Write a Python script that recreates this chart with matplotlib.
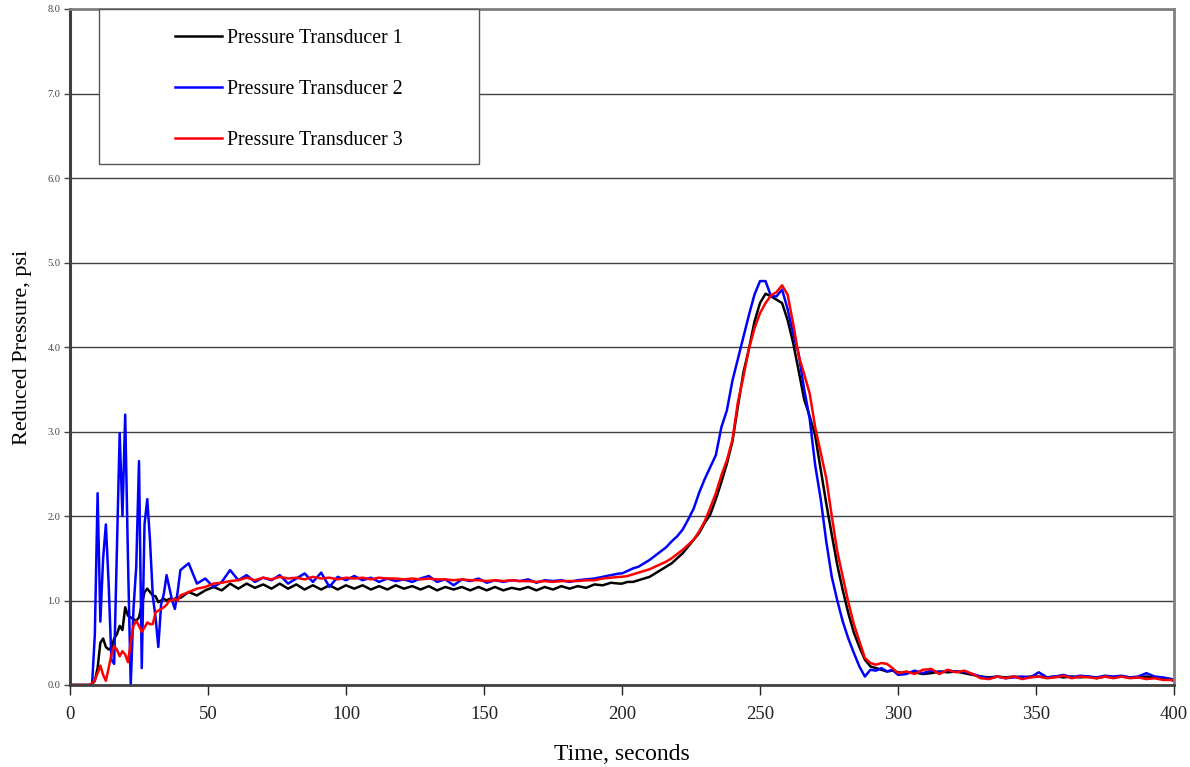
import matplotlib
matplotlib.use('Agg')
import matplotlib.pyplot as plt
from matplotlib.patches import Rectangle
import numpy as np

# time axis (s): 1 s steps at start, 3 s on plateau, 2 s through the peak, 3 s in tail
time_s = (list(range(0, 41)) + list(range(43, 200, 3))
          + list(range(200, 301, 2)) + list(range(303, 400, 3)) + [400])

pt1 = [
    # 0-40
    0.0, 0.0, 0.0, 0.0, 0.0, 0.0, 0.0, 0.0, 0.01, 0.05, 0.2, 0.5, 0.55, 0.45, 0.42, 0.44,
    0.55, 0.6, 0.7, 0.65, 0.92, 0.82, 0.8, 0.78, 0.76, 0.8, 0.95, 1.1, 1.14, 1.1, 1.06,
    1.05, 0.98, 1.0, 1.02, 1.0, 1.02, 1.0, 1.02, 1.04, 1.03,
    # 43-199
    1.10, 1.06, 1.12, 1.16, 1.12, 1.20, 1.14, 1.20, 1.15, 1.19, 1.14, 1.20, 1.14, 1.19,
    1.13, 1.18, 1.13, 1.18, 1.13, 1.18, 1.14, 1.18, 1.13, 1.17, 1.13, 1.18, 1.14, 1.17,
    1.13, 1.17, 1.12, 1.16, 1.13, 1.16, 1.12, 1.16, 1.12, 1.16, 1.12, 1.15, 1.13, 1.16,
    1.12, 1.16, 1.13, 1.17, 1.14, 1.17, 1.15, 1.19, 1.18, 1.21, 1.20,
    # 200-300
    1.20, 1.22, 1.22, 1.24, 1.26, 1.28, 1.32, 1.36, 1.40, 1.44, 1.50, 1.56, 1.64, 1.72,
    1.80, 1.92, 2.02, 2.20, 2.40, 2.62, 2.88, 3.30, 3.70, 3.98, 4.30, 4.52, 4.63, 4.60,
    4.56, 4.52, 4.32, 4.05, 3.72, 3.38, 3.18, 2.95, 2.55, 2.15, 1.78, 1.42, 1.12, 0.85,
    0.62, 0.45, 0.30, 0.22, 0.20, 0.18, 0.16, 0.17, 0.15,
    # 303-400
    0.14, 0.15, 0.13, 0.14, 0.16, 0.15, 0.16, 0.14, 0.12, 0.10, 0.09, 0.10, 0.09, 0.10,
    0.09, 0.10, 0.10, 0.09, 0.10, 0.09, 0.10, 0.09, 0.10, 0.08, 0.10, 0.09, 0.10, 0.09,
    0.09, 0.10, 0.09, 0.08, 0.07, 0.06,
]

pt2 = [
    # 0-40
    0.0, 0.0, 0.0, 0.0, 0.0, 0.0, 0.0, 0.0, 0.0, 0.6, 2.27, 0.75, 1.5, 1.9, 1.2, 0.3,
    0.25, 1.6, 2.98, 2.0, 3.2, 1.5, 0.0, 0.9, 1.4, 2.65, 0.2, 1.9, 2.2, 1.7, 1.05,
    0.8, 0.45, 0.95, 1.08, 1.3, 1.15, 1.0, 0.9, 1.1, 1.36,
    # 43-199
    1.44, 1.20, 1.26, 1.16, 1.22, 1.36, 1.24, 1.30, 1.22, 1.27, 1.24, 1.30, 1.20, 1.26,
    1.32, 1.22, 1.33, 1.16, 1.28, 1.24, 1.29, 1.24, 1.27, 1.22, 1.26, 1.23, 1.25, 1.22,
    1.26, 1.29, 1.22, 1.25, 1.18, 1.25, 1.23, 1.26, 1.21, 1.24, 1.22, 1.24, 1.23, 1.25,
    1.21, 1.24, 1.23, 1.24, 1.22, 1.24, 1.25, 1.26, 1.28, 1.30, 1.32,
    # 200-300
    1.32, 1.35, 1.38, 1.40, 1.44, 1.48, 1.53, 1.58, 1.63, 1.70, 1.76, 1.84, 1.96, 2.09,
    2.28, 2.44, 2.58, 2.72, 3.05, 3.25, 3.60, 3.86, 4.12, 4.38, 4.62, 4.78, 4.78, 4.60,
    4.60, 4.68, 4.45, 4.16, 3.92, 3.50, 3.15, 2.60, 2.20, 1.70, 1.28, 1.00, 0.75, 0.55,
    0.38, 0.22, 0.10, 0.18, 0.17, 0.20, 0.16, 0.18, 0.12,
    # 303-400
    0.13, 0.17, 0.14, 0.17, 0.15, 0.17, 0.16, 0.16, 0.13, 0.10, 0.08, 0.10, 0.08, 0.09,
    0.10, 0.09, 0.15, 0.09, 0.10, 0.12, 0.09, 0.11, 0.10, 0.09, 0.11, 0.10, 0.11, 0.09,
    0.10, 0.14, 0.10, 0.09, 0.07, 0.04,
]

pt3 = [
    # 0-40
    0.0, 0.0, 0.0, 0.0, 0.0, 0.0, 0.0, 0.0, 0.02, 0.06, 0.14, 0.23, 0.12, 0.05, 0.2, 0.36,
    0.46, 0.42, 0.34, 0.4, 0.36, 0.27, 0.5, 0.7, 0.76, 0.7, 0.63, 0.68, 0.74, 0.72, 0.72,
    0.86, 0.88, 0.9, 0.92, 0.95, 1.0, 1.0, 1.02, 1.0, 1.06,
    # 43-199
    1.10, 1.14, 1.16, 1.20, 1.21, 1.23, 1.24, 1.27, 1.24, 1.27, 1.25, 1.28, 1.26, 1.27,
    1.25, 1.28, 1.26, 1.27, 1.25, 1.27, 1.26, 1.27, 1.25, 1.27, 1.26, 1.26, 1.25, 1.26,
    1.25, 1.26, 1.25, 1.25, 1.24, 1.25, 1.24, 1.24, 1.23, 1.24, 1.23, 1.24, 1.23, 1.23,
    1.22, 1.23, 1.22, 1.23, 1.23, 1.23, 1.24, 1.24, 1.26, 1.27, 1.28,
    # 200-300
    1.28, 1.29, 1.31, 1.33, 1.35, 1.37, 1.40, 1.43, 1.46, 1.50, 1.55, 1.60, 1.66, 1.72,
    1.82, 1.94, 2.10, 2.27, 2.48, 2.66, 2.90, 3.35, 3.65, 3.98, 4.22, 4.40, 4.52, 4.61,
    4.65, 4.73, 4.62, 4.28, 3.90, 3.68, 3.45, 3.05, 2.75, 2.45, 2.00, 1.58, 1.28, 0.98,
    0.72, 0.52, 0.32, 0.26, 0.24, 0.26, 0.25, 0.20, 0.14,
    # 303-400
    0.16, 0.13, 0.18, 0.19, 0.13, 0.18, 0.15, 0.17, 0.13, 0.08, 0.07, 0.10, 0.08, 0.10,
    0.07, 0.09, 0.10, 0.08, 0.09, 0.11, 0.08, 0.10, 0.09, 0.08, 0.10, 0.08, 0.10, 0.08,
    0.09, 0.07, 0.08, 0.06, 0.06, 0.05,
]

labels = ['Pressure Transducer 1', 'Pressure Transducer 2', 'Pressure Transducer 3']
colors = ['#000000', '#0000ff', '#ff0000']

plt.rcParams['font.family'] = ['Liberation Serif', 'DejaVu Serif']

W, H = 1190, 767
fig = plt.figure(figsize=(W / 100, H / 100), dpi=100)
ax = fig.add_axes([70 / W, 1 - 685 / H, 1104 / W, 676 / H])

for series, lab, col in zip([pt1, pt2, pt3], labels, colors):
    ax.plot(time_s, series, color=col, lw=1.8, label=lab, solid_joinstyle='round')

ax.set_xlim(0, 400)
ax.set_ylim(0, 8)
ax.set_xticks(np.arange(0, 401, 50))
ax.set_yticks(np.arange(0, 8.1, 1.0))
ax.set_yticklabels(['%.1f' % v for v in np.arange(0, 8.1, 1.0)])
ax.yaxis.grid(True, color='#404040', lw=1.0)
ax.set_axisbelow(True)

ax.tick_params(axis='x', direction='out', length=7, width=1, pad=8,
               labelsize=13.5, colors='#222222')
ax.tick_params(axis='y', direction='out', length=4, width=1, pad=3,
               labelsize=7.5, colors='#444444')

ax.spines['left'].set_color('#404040')
ax.spines['left'].set_linewidth(2.2)
ax.spines['bottom'].set_color('#404040')
ax.spines['bottom'].set_linewidth(2.0)
ax.spines['top'].set_color('#808080')
ax.spines['top'].set_linewidth(2.0)
ax.spines['right'].set_color('#808080')
ax.spines['right'].set_linewidth(2.0)

ax.set_xlabel('Time, seconds', fontsize=17, labelpad=15)
ax.set_ylabel('Reduced Pressure, psi', fontsize=16, labelpad=11)

# legend frame
frame = Rectangle((99 / W, 1 - 164 / H), 380 / W, 155 / H, transform=fig.transFigure,
                  facecolor='white', edgecolor='#555555', lw=1.0, zorder=5)
fig.patches.append(frame)
lgd = fig.legend(loc='upper left', bbox_to_anchor=(175 / W, 1 - 29 / H), frameon=False,
                 fontsize=14.3, handlelength=2.35, handletextpad=0.28, labelspacing=1.6,
                 borderpad=0, borderaxespad=0)
lgd.set_zorder(6)

fig.savefig('out.png', dpi=100, facecolor='white')
